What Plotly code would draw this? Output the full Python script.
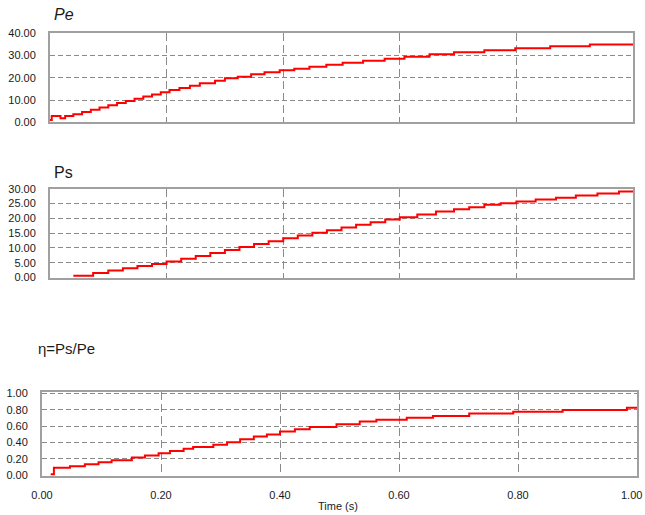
import plotly.graph_objects as go

# ---- data ----
pe_t = [0.000, 0.003, 0.018, 0.026, 0.040, 0.055, 0.070, 0.085, 0.100, 0.115,
        0.130, 0.145, 0.160, 0.175, 0.190, 0.205, 0.222, 0.240, 0.257, 0.283,
        0.300, 0.322, 0.345, 0.368, 0.394, 0.419, 0.445, 0.474, 0.502, 0.537,
        0.574, 0.608, 0.651, 0.693, 0.745, 0.798, 0.858, 0.926, 1.000]
pe_v = [1.0, 2.8, 1.8, 2.8, 3.6, 4.6, 5.6, 6.6, 7.6, 8.6,
        9.6, 10.6, 11.6, 12.5, 13.5, 14.5, 15.4, 16.4, 17.5, 18.7,
        19.8, 20.5, 21.6, 22.5, 23.4, 24.1, 25.0, 25.9, 26.8, 27.7,
        28.6, 29.5, 30.6, 31.5, 32.4, 33.3, 34.2, 35.0, 35.0]

ps_t = [0.040, 0.074, 0.100, 0.125, 0.150, 0.175, 0.200, 0.225, 0.250, 0.275,
        0.300, 0.325, 0.350, 0.375, 0.400, 0.425, 0.450, 0.475, 0.500, 0.525,
        0.550, 0.575, 0.600, 0.630, 0.662, 0.693, 0.719, 0.745, 0.773, 0.800,
        0.833, 0.868, 0.902, 0.939, 0.976, 1.000]
ps_v = [0.6, 1.5, 2.4, 3.1, 3.9, 4.6, 5.4, 6.3, 7.3, 8.3,
        9.3, 10.3, 11.3, 12.3, 13.3, 14.2, 15.1, 16.0, 16.9, 17.8,
        18.7, 19.6, 20.4, 21.3, 22.3, 23.1, 23.8, 24.6, 25.1, 25.7,
        26.4, 27.0, 27.7, 28.4, 29.1, 29.3]

eta_t = [0.0146, 0.020, 0.047, 0.072, 0.095, 0.117, 0.151, 0.173, 0.196, 0.215,
         0.238, 0.254, 0.288, 0.311, 0.333, 0.356, 0.378, 0.400, 0.425, 0.450,
         0.495, 0.534, 0.562, 0.613, 0.657, 0.718, 0.792, 0.875, 0.983, 1.000]
eta_v = [0.01, 0.09, 0.11, 0.135, 0.16, 0.184, 0.216, 0.24, 0.27, 0.298,
         0.323, 0.347, 0.372, 0.405, 0.44, 0.474, 0.50, 0.535, 0.564, 0.59,
         0.626, 0.658, 0.68, 0.703, 0.727, 0.756, 0.777, 0.80, 0.826, 0.826]

x_ticks = [0.0, 0.2, 0.4, 0.6, 0.8, 1.0]
x_labels = ["0.00", "0.20", "0.40", "0.60", "0.80", ""]
x_last_label = "1.00"
pe_ticks = [0, 10, 20, 30, 40]
ps_ticks = [0, 5, 10, 15, 20, 25, 30]
eta_ticks = [0.0, 0.2, 0.4, 0.6, 0.8, 1.0]

titles = ["Pe", "Ps", "η=Ps/Pe"]
x_title = "Time (s)"

W, H = 645, 515
def px(x):
    return x / W
def py(y):
    return 1 - y / H

RED = "#ff0000"
GRID = "#8a8a8a"
BORDER = "#a0a0a0"
FONT = "Liberation Sans"
TXT = "#1a1a1a"

fig = go.Figure()
fig.add_trace(go.Scatter(x=pe_t, y=pe_v, mode="lines", line=dict(color=RED, width=2, shape="hv"),
                         xaxis="x", yaxis="y", showlegend=False))
fig.add_trace(go.Scatter(x=ps_t, y=ps_v, mode="lines", line=dict(color=RED, width=2, shape="hv"),
                         xaxis="x2", yaxis="y2", showlegend=False))
fig.add_trace(go.Scatter(x=eta_t, y=eta_v, mode="lines", line=dict(color=RED, width=2, shape="hv"),
                         xaxis="x3", yaxis="y3", showlegend=False))

def xax(domain, anchor, labels):
    return dict(domain=domain, anchor=anchor, range=[0, 1], tickvals=x_ticks,
                ticktext=x_labels, showticklabels=labels,
                showgrid=True, gridcolor=GRID, griddash="8px,4px", gridwidth=1,
                showline=True, linecolor=BORDER, linewidth=2, mirror=True,
                zeroline=False, ticks="", ticklabelstandoff=8, automargin=False,
                ticklabeloverflow="allow",
                tickfont=dict(family=FONT, size=11, color=TXT))

def yax(domain, anchor, rng, ticks):
    return dict(domain=domain, anchor=anchor, range=rng, tickvals=ticks,
                ticktext=[f"{v:.2f}" for v in ticks],
                showgrid=True, gridcolor=GRID, griddash="5px,3px", gridwidth=1,
                showline=True, linecolor=BORDER, linewidth=2, mirror=True,
                zeroline=False, ticks="", ticklabelstandoff=10, automargin=False,
                ticklabeloverflow="allow",
                tickfont=dict(family=FONT, size=11, color=TXT))

fig.update_layout(
    width=W, height=H,
    margin=dict(l=0, r=0, t=0, b=0),
    paper_bgcolor="white", plot_bgcolor="white",
    xaxis=xax([px(50), px(633)], "y", False),
    yaxis=yax([py(122.2), py(33.4)], "x", [0, 40], pe_ticks),
    xaxis2=xax([px(50), px(633)], "y2", False),
    yaxis2=yax([py(277.5), py(188.8)], "x2", [0, 30], ps_ticks),
    xaxis3=xax([px(42), px(637)], "y3", True),
    yaxis3=yax([py(476), py(392)], "x3", [-0.01, 1.02], eta_ticks),
    annotations=[
        dict(text="<i>" + titles[0] + "</i>", x=px(52), y=py(15), xref="paper", yref="paper",
             xanchor="left", yanchor="middle", showarrow=False,
             font=dict(family=FONT, size=16, color=TXT)),
        dict(text=titles[1], x=px(52), y=py(172), xref="paper", yref="paper",
             xanchor="left", yanchor="middle", showarrow=False,
             font=dict(family=FONT, size=16, color=TXT)),
        dict(text=titles[2], x=px(36), y=py(348), xref="paper", yref="paper",
             xanchor="left", yanchor="middle", showarrow=False,
             font=dict(family=FONT, size=15, color=TXT)),
        dict(text=x_title, x=px(338), y=py(506), xref="paper", yref="paper",
             xanchor="center", yanchor="middle", showarrow=False,
             font=dict(family=FONT, size=11, color=TXT)),
        dict(text=x_last_label, x=px(644), y=py(495), xref="paper", yref="paper",
             xanchor="right", yanchor="middle", showarrow=False,
             font=dict(family=FONT, size=11, color=TXT)),
    ],
)

fig.write_html("out.html", config={"displayModeBar": False},
               post_script="document.body.style.margin='0';document.body.style.overflow='hidden';")
